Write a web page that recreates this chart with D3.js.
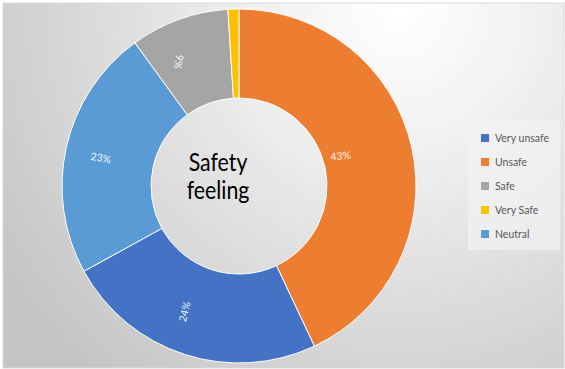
<!DOCTYPE html>
<html><head><meta charset="utf-8">
<script src="https://cdn.jsdelivr.net/npm/d3@7/dist/d3.min.js"></script>
<style>
html,body{margin:0;padding:0;background:#fff;}
svg{display:block;}
</style></head>
<body>
<svg id="chart" width="565" height="369"></svg>
<script>
// ---- data ----
const categories = ["Unsafe", "Very unsafe", "Neutral", "Safe", "Very Safe"];
const values = [43, 24, 23, 9, 1];
const percentLabels = ["43%", "24%", "23%", "9%", ""];
const legendOrder = ["Very unsafe", "Unsafe", "Safe", "Very Safe", "Neutral"];
const centerTitle = ["Safety", "feeling"];

// ---- styles ----
const colors = {
  "Very unsafe": "#4472C4",
  "Unsafe": "#ED7D31",
  "Safe": "#A5A5A5",
  "Very Safe": "#FFC000",
  "Neutral": "#5B9BD5"
};
// label placement tweaks (angle offset deg, radius, rotation deg)
const labelStyle = {
  "Unsafe": {da: -4, r: 106, rot: -5},
  "Very unsafe": {da: 5.5, r: 137, rot: -76},
  "Neutral": {da: -1, r: 141, rot: 10},
  "Safe": {da: -6, r: 138, rot: 100},
  "Very Safe": {da: 0, r: 138, rot: 0}
};

const W = 565, H = 369;
const svg = d3.select("#chart");
const defs = svg.append("defs");
const grad = defs.append("radialGradient")
  .attr("id", "bg").attr("gradientUnits", "userSpaceOnUse")
  .attr("cx", 400).attr("cy", 10).attr("r", 480);
grad.append("stop").attr("offset", "0").attr("stop-color", "#ffffff");
grad.append("stop").attr("offset", "0.3").attr("stop-color", "#f0f0f0");
grad.append("stop").attr("offset", "1").attr("stop-color", "#c4c4c4");

svg.append("rect").attr("x", 0).attr("y", 0).attr("width", W).attr("height", H).attr("fill", "#ffffff");
svg.append("rect").attr("x", 3).attr("y", 3).attr("width", W - 4).attr("height", H - 4)
  .attr("fill", "url(#bg)").attr("stroke", "#d9d9d9").attr("stroke-width", 1);

const cx = 239, cy = 186, rOuter = 177, rInner = 88;
const g = svg.append("g").attr("transform", `translate(${cx},${cy})`);

const data = categories.map((c, i) => ({cat: c, value: values[i], label: percentLabels[i]}));
const pie = d3.pie().sort(null).value(d => d.value).startAngle(0).endAngle(2 * Math.PI);
const arcs = pie(data);
const arc = d3.arc().innerRadius(rInner).outerRadius(rOuter);

g.selectAll("path.slice").data(arcs).join("path")
  .attr("class", "slice")
  .attr("d", arc)
  .attr("fill", d => colors[d.data.cat])
  .attr("stroke", "#ffffff").attr("stroke-width", 1);

// percent labels
g.selectAll("text.pct").data(arcs.filter(d => d.data.label)).join("text")
  .attr("class", "pct")
  .attr("transform", d => {
    const s = labelStyle[d.data.cat];
    const a = (d.startAngle + d.endAngle) / 2 + s.da * Math.PI / 180;
    const x = Math.sin(a) * s.r, y = -Math.cos(a) * s.r;
    return `translate(${x},${y}) rotate(${s.rot})`;
  })
  .attr("text-anchor", "middle").attr("dominant-baseline", "central")
  .attr("font-family", "Lato, 'Open Sans', sans-serif").attr("font-size", 10.5)
  .attr("fill", "#ffffff").attr("fill-opacity", 0.92)
  .text(d => d.data.label);

// center title
g.selectAll("text.title").data(centerTitle).join("text")
  .attr("class", "title")
  .attr("transform", (d, i) => `translate(-21,${-15 + i * 28}) scale(0.87,1)`)
  .attr("text-anchor", "middle")
  .attr("font-family", "Lato, 'Open Sans', sans-serif").attr("font-size", 24.5)
  .attr("fill", "#000000")
  .text(d => d);

// legend
const lg = svg.append("g").attr("transform", "translate(468,120)");
lg.append("rect").attr("x", 0).attr("y", 0).attr("width", 92).attr("height", 130)
  .attr("fill", "#f2f2f2").attr("fill-opacity", 0.7);
const ly = d3.scalePoint().domain(legendOrder).range([18, 114]);
const items = lg.selectAll("g.item").data(legendOrder).join("g")
  .attr("class", "item").attr("transform", d => `translate(0,${ly(d)})`);
items.append("rect").attr("x", 13).attr("y", -4).attr("width", 8).attr("height", 8)
  .attr("fill", d => colors[d]);
items.append("text").attr("x", 27).attr("y", 0).attr("dominant-baseline", "central")
  .attr("font-family", "Lato, 'Open Sans', sans-serif").attr("font-size", 10.5)
  .attr("fill", "#595959").text(d => d);
</script>
</body></html>
